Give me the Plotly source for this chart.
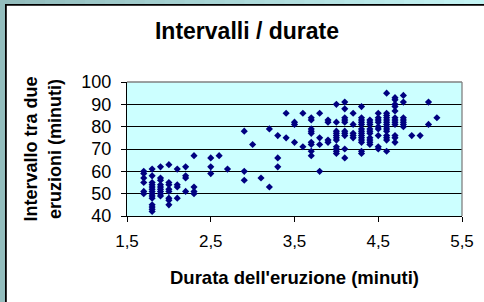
import plotly.graph_objects as go

# ---- data ----
durata = [
    1.7, 1.7, 1.7, 1.7, 1.7, 1.7,
    1.8, 1.8, 1.8, 1.8, 1.8, 1.8, 1.8, 1.8, 1.8, 1.8, 1.8, 1.8, 1.8, 1.8,
    1.9, 1.9, 1.9, 1.9, 1.9, 1.9, 1.9, 1.9, 1.9,
    2.0, 2.0, 2.0, 2.0, 2.0, 2.0, 2.0, 2.0,
    2.1, 2.1, 2.1, 2.1,
    2.2, 2.2, 2.2, 2.2,
    2.3, 2.3, 2.3, 2.3,
    2.5, 2.5, 2.5,
    2.6,
    2.7,
    2.9, 2.9, 2.9,
    3.0,
    3.1,
    3.2, 3.2,
    3.3, 3.3, 3.3,
    3.4, 3.4,
    3.5, 3.5, 3.5,
    3.6, 3.6,
    3.7, 3.7, 3.7, 3.7, 3.7, 3.7, 3.7, 3.7, 3.7,
    3.8, 3.8, 3.8, 3.8,
    3.9, 3.9, 3.9, 3.9,
    4.0, 4.0, 4.0, 4.0, 4.0, 4.0, 4.0, 4.0, 4.0, 4.0, 4.0,
    4.1, 4.1, 4.1, 4.1, 4.1, 4.1, 4.1, 4.1, 4.1, 4.1,
    4.2, 4.2, 4.2, 4.2, 4.2,
    4.3, 4.3, 4.3, 4.3, 4.3, 4.3, 4.3, 4.3, 4.3, 4.3, 4.3, 4.3, 4.3, 4.3,
    4.4, 4.4, 4.4, 4.4, 4.4, 4.4, 4.4, 4.4, 4.4, 4.4,
    4.5, 4.5, 4.5, 4.5, 4.5, 4.5, 4.5, 4.5, 4.5,
    4.6, 4.6, 4.6, 4.6, 4.6, 4.6, 4.6, 4.6, 4.6, 4.6, 4.6, 4.6, 4.6, 4.6,
    4.7, 4.7, 4.7, 4.7, 4.7, 4.7, 4.7, 4.7, 4.7, 4.7, 4.7, 4.7,
    4.8, 4.8, 4.8, 4.8, 4.8, 4.8, 4.8,
    4.9,
    5.0,
    5.1, 5.1,
    5.2,
]
intervallo = [
    60, 59, 57, 55, 51, 50,
    61, 58, 55, 54, 53, 52, 51, 50, 49, 48, 45, 44, 43, 42,
    62, 57, 56, 54, 53, 52, 51, 50, 49,
    63, 55, 54, 52, 51, 48, 47, 45,
    61, 54, 53, 48,
    62, 58, 57, 51,
    67, 53, 51, 50,
    66, 62, 59,
    67,
    61,
    78, 60, 56,
    72,
    57,
    79, 53,
    76, 66, 62,
    86, 75,
    82, 81, 73,
    86, 71,
    84, 83, 79, 78, 77, 73, 72, 69, 67,
    86, 75, 72, 60,
    83, 82, 74, 73,
    90, 82, 78, 77, 76, 75, 74, 71, 70, 69, 68,
    91, 88, 84, 83, 82, 78, 77, 76, 70, 66,
    86, 81, 77, 76, 75,
    89, 84, 83, 82, 81, 79, 78, 77, 76, 75, 74, 73, 69, 68,
    83, 82, 81, 79, 78, 77, 75, 74, 73, 72,
    86, 84, 83, 82, 80, 79, 76, 71, 70,
    95, 86, 85, 84, 83, 82, 81, 80, 79, 78, 76, 75, 74, 69,
    93, 92, 90, 89, 87, 84, 83, 82, 81, 76, 75, 73,
    94, 91, 84, 83, 82, 81, 80,
    76,
    76,
    91, 81,
    84,
]
x_ticks = [1.5, 2.5, 3.5, 4.5, 5.5]
y_ticks = [40, 50, 60, 70, 80, 90, 100]
titolo = "Intervalli / durate"
titolo_x = "Durata dell'eruzione (minuti)"
titolo_y = "Intervallo tra due<br>eruzioni (minuti)"

# ---- layout geometry (pixels) ----
W, H = 484, 302
L, R, T, B = 127, 462, 82, 216


def px(x):
    return (x - L) / (R - L)


def py(y):
    return (B - y) / (B - T)


FONT = "Liberation Sans, Arial, sans-serif"

fig = go.Figure()
fig.add_trace(go.Scatter(
    x=durata, y=intervallo, mode="markers",
    marker=dict(symbol="diamond", size=5.5, color="#000080",
                line=dict(width=0)),
    showlegend=False, hoverinfo="x+y",
))

shapes = []
# teal frame strips
shapes.append(dict(type="rect", xref="paper", yref="paper",
                   x0=px(-2), x1=px(5), y0=py(-2), y1=py(H + 2),
                   fillcolor="#93bdbd", line=dict(width=0), layer="above"))
nseg = 24
c0 = (147, 189, 189)
c1 = (196, 244, 244)
for i in range(nseg):
    t = i / (nseg - 1)
    col = "rgb(%d,%d,%d)" % tuple(int(round(a + (b - a) * t)) for a, b in zip(c0, c1))
    xa = 5 + (W - 5) * i / nseg
    xb = 5 + (W - 5) * (i + 1) / nseg + 1
    shapes.append(dict(type="rect", xref="paper", yref="paper",
                       x0=px(xa), x1=px(xb), y0=py(-2), y1=py(4),
                       fillcolor=col, line=dict(width=0), layer="above"))
# black border lines
shapes.append(dict(type="rect", xref="paper", yref="paper",
                   x0=px(5), x1=px(6.8), y0=py(4), y1=py(H + 2),
                   fillcolor="black", line=dict(width=0), layer="above"))
shapes.append(dict(type="rect", xref="paper", yref="paper",
                   x0=px(5), x1=px(W + 2), y0=py(4), y1=py(5.8),
                   fillcolor="black", line=dict(width=0), layer="above"))
# gray top/right plot border
shapes.append(dict(type="line", xref="paper", yref="paper",
                   x0=0, x1=1, y0=1, y1=1, line=dict(color="#808080", width=1.3),
                   layer="above"))
shapes.append(dict(type="line", xref="paper", yref="paper",
                   x0=1, x1=1, y0=0, y1=1, line=dict(color="#808080", width=1.3),
                   layer="above"))

fig.update_layout(
    width=W, height=H,
    margin=dict(l=L, r=W - R, t=T, b=H - B, pad=0, autoexpand=False),
    paper_bgcolor="white",
    plot_bgcolor="#ccffff",
    separators=",.",
    font=dict(family=FONT, color="black", size=16),
    title=dict(text="<b>%s</b>" % titolo, x=247 / W, xanchor="center",
               y=1 - 31 / H, yanchor="middle",
               font=dict(family=FONT, size=23, color="black"),
               automargin=False),
    xaxis=dict(
        range=[1.5, 5.5], tickvals=x_ticks, tickformat=".1f",
        ticks="outside", ticklen=5, tickcolor="black", tickwidth=1,
        showline=True, linecolor="black", linewidth=1,
        showgrid=False, zeroline=False, automargin=False,
        tickfont=dict(family=FONT, size=17, color="black"),
        ticklabelstandoff=5,
        title=dict(text="<b>%s</b>" % titolo_x, standoff=20,
                   font=dict(family=FONT, size=18.5, color="black")),
    ),
    yaxis=dict(
        range=[40, 100], tickvals=y_ticks,
        ticks="outside", ticklen=5, tickcolor="black", tickwidth=1,
        showline=True, linecolor="black", linewidth=1,
        showgrid=True, gridcolor="black", gridwidth=1,
        zeroline=False, automargin=False,
        tickfont=dict(family=FONT, size=18, color="black"),
        ticklabelstandoff=6,
        title=dict(text="<b>%s</b>" % titolo_y, standoff=15,
                   font=dict(family=FONT, size=18, color="black")),
    ),
    shapes=shapes,
)

fig.write_html(
    "out.html",
    config={"displayModeBar": False},
    post_script="document.body.style.margin='0';document.body.style.overflow='hidden';",
)
